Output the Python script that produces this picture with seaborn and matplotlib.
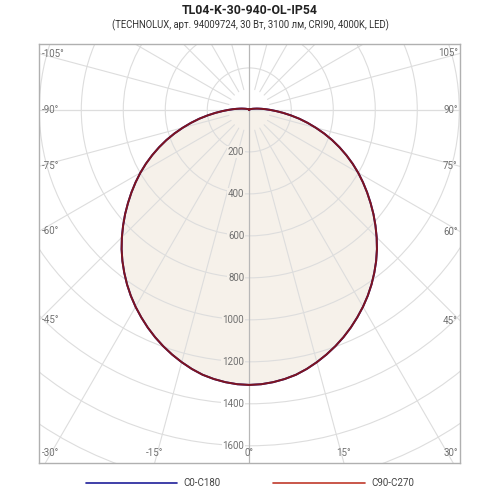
import numpy as np
import pandas as pd
import matplotlib
matplotlib.use("Agg")
import matplotlib.pyplot as plt
from matplotlib.lines import Line2D
from matplotlib.patches import Circle
import seaborn as sns

# ---- data ----
angles = [0, 2.5, 5, 7.5, 10, 12.5, 15, 17.5, 20, 22.5, 25, 27.5, 30, 32.5, 35, 37.5,
          40, 42.5, 45, 47.5, 50, 52.5, 55, 57.5, 60, 62.5, 65, 67.5, 70, 72.5, 75,
          77.5, 80, 82.5, 85, 87.5, 90, 92.5, 95, 97.5, 100, 105, 110, 115, 120, 130,
          140, 150, 160, 170, 180]
c0_c180 = [1310, 1308, 1302, 1293, 1281, 1264, 1244, 1222, 1198, 1172, 1144, 1114, 1083,
           1050, 1015, 978, 940, 900, 858, 815, 772, 728, 685, 642, 599, 555, 510, 465,
           420, 374, 328, 284, 242, 200, 162, 128, 100, 78, 60, 46, 36, 22, 15, 10, 8, 5,
           4, 3, 2, 1, 0]
c90_c270 = [1310, 1308, 1302, 1293, 1281, 1264, 1244, 1222, 1198, 1172, 1144, 1114, 1083,
            1050, 1015, 978, 940, 900, 858, 815, 772, 728, 685, 642, 599, 555, 510, 465,
            420, 374, 328, 284, 242, 200, 162, 128, 100, 78, 60, 46, 36, 22, 15, 10, 8, 5,
            4, 3, 2, 1, 0]
radial_ticks = [200, 400, 600, 800, 1000, 1200, 1400, 1600]
angle_ticks = [-105, -90, -75, -60, -45, -30, -15, 0, 15, 30, 45, 60, 75, 90, 105]
title = "TL04-K-30-940-OL-IP54"
subtitle = "(TECHNOLUX, арт. 94009724, 30 Вт, 3100 лм, CRI90, 4000K, LED)"
series_names = ["C0-C180", "C90-C270"]

sns.set_style("white")
plt.rcParams['font.family'] = ['Roboto', 'DejaVu Sans']

XMIN, XMAX, YMIN, YMAX = -1000, 1005, -1682, 314

def to_xy(theta_deg, r):
    t = np.deg2rad(np.asarray(theta_deg, float))
    r = np.asarray(r, float)
    return r * np.sin(t), -r * np.cos(t)

def full_curve(vals):
    th = np.array([-a for a in angles[::-1]] + angles[1:], float)
    rr = np.array(vals[::-1] + vals[1:], float)
    return th, rr

rows = []
for name, vals in zip(series_names, [c0_c180, c90_c270]):
    th, rr = full_curve(vals)
    x, y = to_xy(th, rr)
    for a, b in zip(x, y):
        rows.append({"x": a, "y": b, "plane": name})
df = pd.DataFrame(rows)

fig = plt.figure(figsize=(5, 5), dpi=100)
ax = fig.add_axes([0.0786, 0.074, 0.842, 0.838])
ax.set_xlim(XMIN, XMAX)
ax.set_ylim(YMIN, YMAX)

grid_c = "#dddddd"
# circles
for R in range(200, 2600, 200):
    ax.add_patch(Circle((0, 0), R, fill=False, ec=grid_c, lw=0.8, zorder=1))
# rays
for a in range(0, 360, 15):
    if a % 90 == 0:
        continue
    x0, y0 = to_xy(a, 100)
    x1, y1 = to_xy(a, 3000)
    ax.plot([x0, x1], [y0, y1], color=grid_c, lw=0.8, zorder=1)
ax.axhline(0, color=grid_c, lw=0.9, zorder=1)
ax.axvline(0, color="#b8b8b8", lw=0.9, zorder=1)

# fill
th, rr = full_curve(c90_c270)
fx, fy = to_xy(th, rr)
ax.fill(fx, fy, color="#f6f1ea", zorder=0.5, lw=0)

sns.lineplot(data=df, x="x", y="y", hue="plane", sort=False, estimator=None, ax=ax,
             legend=False, palette={"C0-C180": "#1f1f9a", "C90-C270": "#7e1420"},
             lw=1.4, zorder=3)

# radial labels
for R in radial_ticks:
    ax.text(-24, -R, str(R), ha="right", va="center", fontsize=7, color="#707070",
            zorder=4,
            bbox=dict(boxstyle="square,pad=0.1", fc="#f6f1ea" if R <= 1250 else "white",
                      ec="none"))

# angle labels on the frame
pad = 12
for a in angle_ticks:
    t = np.deg2rad(a)
    dx, dy = np.sin(t), -np.cos(t)
    cands = []
    if dx < -1e-9:
        cands.append(XMIN / dx)
    if dx > 1e-9:
        cands.append(XMAX / dx)
    if dy < -1e-9:
        cands.append(YMIN / dy)
    if dy > 1e-9:
        cands.append(YMAX / dy)
    s = min(cands)
    hx, hy = s * dx, s * dy
    lab = f"{a}°"
    kw = dict(fontsize=7, color="#707070")
    if abs(hy - YMIN) < 1:
        if hx - XMIN < 80:
            ax.text(XMIN + pad, YMIN + 25, lab, ha="left", va="bottom", **kw)
        elif XMAX - hx < 80:
            ax.text(XMAX - pad, YMIN + 25, lab, ha="right", va="bottom", **kw)
        else:
            ax.text(hx, YMIN + 25, lab, ha="center", va="bottom", **kw)
    else:
        yy = min(hy, YMAX - 45)
        if hx < 0:
            ax.text(XMIN + pad, yy, lab, ha="left", va="center", **kw)
        else:
            ax.text(XMAX - pad, yy, lab, ha="right", va="center", **kw)

ax.set_xticks([])
ax.set_yticks([])
ax.set_xlabel("")
ax.set_ylabel("")
for sp in ax.spines.values():
    sp.set_color("#b0b0b0")
    sp.set_linewidth(1.0)
    sp.set_visible(True)

fig.text(0.5, 0.978, title, ha="center", va="center", fontsize=8.8, fontweight="bold", color="#222222")
fig.text(0.5, 0.949, subtitle, ha="center", va="center", fontsize=6.85, color="#333333")

handles = [Line2D([], [], color="#1f1f9a", lw=1.2), Line2D([], [], color="#c0392b", lw=1.2)]
fig.legend(handles, series_names, loc="center", bbox_to_anchor=(0.5, 0.034), ncol=2,
           frameon=False, fontsize=7, handlelength=9.4, columnspacing=5.4, handletextpad=0.7,
           labelcolor="#444444")

fig.savefig("out.png", dpi=100)
